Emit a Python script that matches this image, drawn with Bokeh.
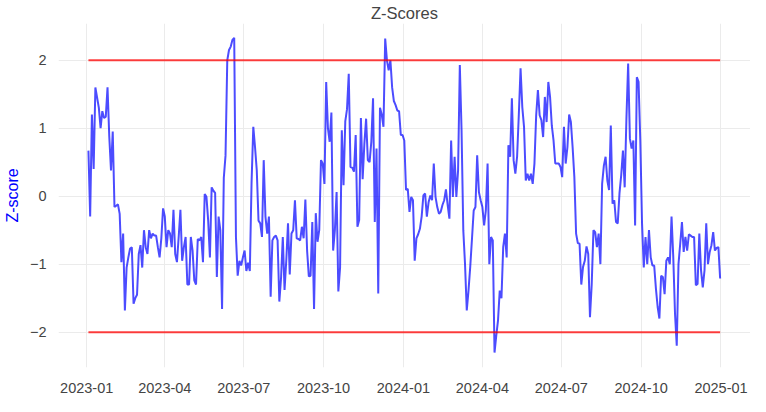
import pandas as pd
from datetime import datetime
from bokeh.plotting import figure
from bokeh.models import Range1d, MonthsTicker, DatetimeTickFormatter, FixedTicker
from bokeh.embed import file_html
from bokeh.resources import INLINE

# ---- data ----
start_date = "2023-01-03"
step = "2D"
zscores = [
    0.67, -0.3, 1.2, 0.4, 1.6, 1.45, 1.3, 1.0, 1.25, 1.15,
    1.17, 1.6, 0.88, 0.38, 0.95, -0.16, -0.14, -0.12, -0.26, -0.97,
    -0.55, -1.68, -1.05, -0.9, -0.77, -0.75, -1.58, -1.5, -1.45, -0.85,
    -0.72, -1.05, -0.5, -0.75, -0.85, -0.5, -0.62, -0.55, -0.58, -0.58,
    -0.75, -0.9, -0.62, -0.18, -0.3, -0.75, -0.5, -0.55, -0.75, -0.2,
    -0.85, -0.97, -0.6, -0.2, -0.95, -0.75, -0.6, -1.3, -1.3, -0.6,
    -0.8, -1.24, -1.3, -0.63, -0.65, -0.6, -0.97, 0.03, -0.01, -0.36,
    -0.9, 0.13, 0.08, 0.05, -1.19, -0.3, -0.5, -1.66, 0.27, 0.6,
    2.0, 2.15, 2.2, 2.3, 2.33, -0.6, -1.17, -0.95, -1.02, -0.9,
    -0.8, -1.1, -0.98, -1.1, 0.2, 1.02, 0.72, 0.38, -0.36, -0.4,
    -0.6, 0.53, -0.3, -0.55, -0.3, -1.48, -0.65, -0.6, -0.58, -0.65,
    -1.55, -1.2, -0.6, -1.38, -0.95, -0.4, -1.15, -0.55, -0.5, -0.06,
    -0.62, -0.63, -0.65, -0.45, -0.62, -0.05, -0.8, -1.18, -1.17, -0.38,
    -1.66, -0.25, -0.67, -0.5, 0.53, 0.48, 0.18, 1.68, 1.0, 0.8,
    1.23, -0.8, -0.5, 0.06, -1.4, -1.05, 0.97, 0.16, 1.1, 1.28,
    1.8, 0.43, 0.42, 0.36, 0.9, -0.45, -0.35, 1.15, 0.25, 0.77,
    1.14, 0.53, 0.5, 0.8, 1.44, -0.38, 0.7, -1.43, 1.3, 1.2,
    1.02, 2.32, 2.0, 1.85, 2.0, 1.6, 1.4, 1.34, 1.26, 1.25,
    0.9, 0.9, 0.82, 0.09, 0.11, -0.23, -0.01, -0.06, -0.95, -0.62,
    -0.56, -0.48, -0.3, 0.01, 0.04, -0.3, -0.09, 0.01, -0.06, 0.48,
    -0.01, -0.16, -0.26, -0.23, -0.13, -0.06, 0.1, -0.13, -0.33, 0.82,
    -0.01, 0.58, -0.01, 0.38, 1.93, 0.97, -0.5, -1.0, -1.68, -1.39,
    -1.04, -0.63, -0.21, -0.16, 0.6, 0.06, -0.06, -0.16, -0.43, -0.21,
    0.48, -1.0, -0.6, -0.65, -2.3, -2.05, -1.83, -1.39, -1.5, -0.75,
    -0.55, -0.9, 0.75, 0.58, 1.44, 0.53, 0.33, 0.58, 1.2, 1.88,
    1.31, 1.02, 0.23, 0.33, 0.23, 0.33, 0.18, 0.48, 1.19, 1.56,
    1.19, 1.12, 0.87, 1.46, 1.09, 1.68, 1.46, 1.04, 0.82, 0.48,
    0.48, 0.48, 0.43, 0.28, 1.02, 0.48, 0.72, 1.2, 1.09, 0.72,
    0.28, -0.55, -0.69, -0.7, -1.3, -1.04, -0.95, -0.74, -0.85, -1.78,
    -1.3, -0.5, -0.53, -0.75, -0.55, -1.0, 0.18, 0.45, 0.58, 0.23,
    0.09, 1.04, -0.11, -0.06, -0.38, -0.4, 0.04, 0.31, 0.67, 0.13,
    1.14, 1.95, 0.85, 0.7, 0.82, -0.43, 1.75, 1.68, 0.82, -0.4,
    -1.05, -0.6, -1.0, -0.5, -0.9, -1.02, -1.02, -1.36, -1.63, -1.8,
    -1.17, -1.19, -1.44, -0.95, -0.9, -1.0, -0.3, -0.9, -1.73, -2.2,
    -1.0, -0.7, -0.38, -0.82, -0.6, -0.8, -0.56, -0.58, -0.6, -0.6,
    -1.31, -1.29, -0.55, -1.09, -1.34, -1.09, -0.4, -1.0, -0.82, -0.72,
    -0.53, -0.8, -0.76, -0.75, -1.21,
]
thresholds = [2, -2]
y_ticks = [-2, -1, 0, 1, 2]
title_text = "Z-Scores"
y_label = "Z-score"

dates = pd.date_range(start_date, periods=len(zscores), freq=step)

FONT = "Liberation Sans"
GREY = "#444444"

p = figure(
    width=750, height=402,
    x_axis_type="datetime",
    output_backend="svg", toolbar_location=None,
    x_range=Range1d(datetime(2022, 11, 29, 12), datetime(2025, 2, 4)),
    y_range=Range1d(-2.52, 2.54),
    min_border_left=55, min_border_right=0, min_border_top=19, min_border_bottom=35,
)
p.outline_line_color = None
p.background_fill_color = "white"

p.line(dates, zscores, line_color="blue", line_alpha=0.7, line_width=2)
for t in thresholds:
    p.line([dates[0], dates[-1]], [t, t], line_color="red", line_alpha=0.75, line_width=2)

# title
p.title.text = title_text
p.title.align = "center"
p.title.text_font = FONT
p.title.text_font_size = "16.5px"
p.title.text_font_style = "normal"
p.title.text_color = GREY
p.title.standoff = 3

# x axis
p.xaxis.ticker = MonthsTicker(months=[0, 3, 6, 9])
p.xaxis.formatter = DatetimeTickFormatter(
    years="%Y-%m", months="%Y-%m", days="%Y-%m", hours="%Y-%m",
)
p.xaxis.major_label_standoff = 15

# y axis
p.yaxis.ticker = FixedTicker(ticks=y_ticks)
p.yaxis.major_label_overrides = {-1: "\u22121", -2: "\u22122"}
p.yaxis.axis_label = y_label
p.yaxis.axis_label_text_color = "blue"
p.yaxis.axis_label_text_font = FONT
p.yaxis.axis_label_text_font_size = "16px"
p.yaxis.axis_label_text_font_style = "normal"
p.yaxis.axis_label_standoff = 6
p.yaxis.major_label_standoff = 12

for ax in (p.xaxis, p.yaxis):
    ax.axis_line_color = None
    ax.major_tick_line_color = None
    ax.minor_tick_line_color = None
    ax.major_tick_out = 0
    ax.minor_tick_out = 0
    ax.major_label_text_font = FONT
    ax.major_label_text_font_size = "14.5px"
    ax.major_label_text_color = GREY

p.grid.grid_line_color = "#ebebeb"
p.grid.grid_line_width = 1

open("out.html", "w").write(file_html(p, INLINE))
